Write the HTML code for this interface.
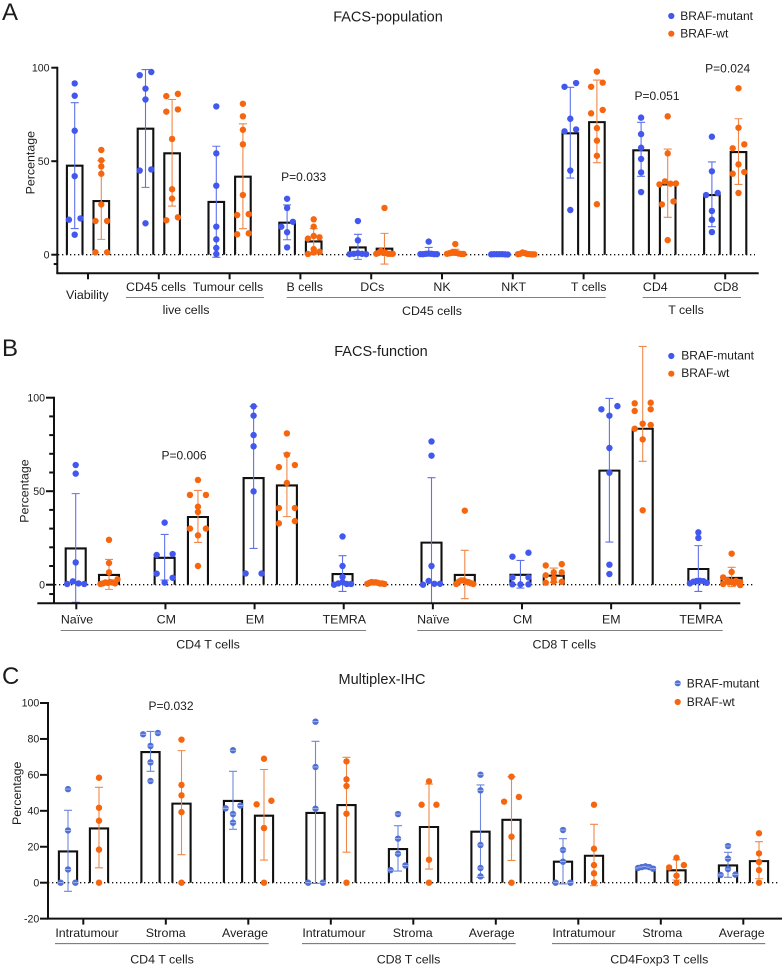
<!DOCTYPE html>
<html lang="en">
<head>
<meta charset="utf-8">
<title>BRAF-mutant vs BRAF-wt percentages</title>
<style>
html,body{margin:0;padding:0;background:#fff;}
svg{display:block;}
text{font-family:"Liberation Sans",sans-serif;fill:#1c1c1c;font-size:12.4px;}
.title{font-size:14.5px;}
.letter{font-size:24px;}
.tick{font-size:10.6px;text-anchor:end;}
.mid{text-anchor:middle;}
.p{font-size:12px;text-anchor:middle;}
.leg{font-size:12px;}
.rule{stroke:#555;stroke-width:.8;}
</style>
</head>
<body>
<svg id="figure" xmlns="http://www.w3.org/2000/svg" width="784" height="968" viewBox="0 0 784 968">
  <rect x="0" y="0" width="784" height="968" fill="#fff"/>

  <!-- Panel A -->
  <g id="panel-a">
    <text class="letter" x="2" y="20">A</text>
    <text class="title mid" x="388" y="21.5">FACS-population</text>
    <circle cx="671.3" cy="16" r="3.1" fill="#4257ee"/>
    <text class="leg" x="680.3" y="20">BRAF-mutant</text>
    <circle cx="671.3" cy="33.7" r="3.1" fill="#f5660f"/>
    <text class="leg" x="680.3" y="37.7">BRAF-wt</text>
    <text class="mid" transform="translate(34.5 162.7) rotate(-90)">Percentage</text>
    <text class="p" x="303.7" y="181">P=0.033</text>
    <text class="p" x="657" y="100">P=0.051</text>
    <text class="p" x="727.7" y="72.7">P=0.024</text>
    <text class="mid" x="87.3" y="299">Viability</text>
    <text class="mid" x="156" y="291">CD45 cells</text>
    <text class="mid" x="228" y="291">Tumour cells</text>
    <text class="mid" x="304.7" y="291">B cells</text>
    <text class="mid" x="372.3" y="291">DCs</text>
    <text class="mid" x="442" y="291">NK</text>
    <text class="mid" x="513.7" y="291">NKT</text>
    <text class="mid" x="588.7" y="291">T cells</text>
    <text class="mid" x="655.3" y="291">CD4</text>
    <text class="mid" x="726" y="291">CD8</text>
    <line class="rule" x1="126" y1="297.5" x2="264" y2="297.5"/>
    <line class="rule" x1="286.7" y1="297.5" x2="605.7" y2="297.5"/>
    <line class="rule" x1="642.7" y1="297.5" x2="741" y2="297.5"/>
    <text class="mid" x="186" y="314">live cells</text>
    <text class="mid" x="432" y="315">CD45 cells</text>
    <text class="mid" x="686" y="314">T cells</text>
  </g>

  <!-- Panel B -->
  <g id="panel-b">
    <text class="letter" x="2" y="356">B</text>
    <text class="title mid" x="381" y="356">FACS-function</text>
    <circle cx="671.3" cy="356" r="3.1" fill="#4257ee"/>
    <text class="leg" x="681.3" y="359.5">BRAF-mutant</text>
    <circle cx="671.3" cy="373.7" r="3.1" fill="#f5660f"/>
    <text class="leg" x="681.3" y="377">BRAF-wt</text>
    <text class="mid" transform="translate(28.5 491) rotate(-90)">Percentage</text>
    <text class="p" x="184" y="459.7">P=0.006</text>
    <text class="mid" x="77" y="623.3">Naïve</text>
    <text class="mid" x="166.3" y="623.3">CM</text>
    <text class="mid" x="255" y="623.3">EM</text>
    <text class="mid" x="344.3" y="623.3">TEMRA</text>
    <text class="mid" x="433.3" y="623.3">Naïve</text>
    <text class="mid" x="522.7" y="623.3">CM</text>
    <text class="mid" x="611.3" y="623.3">EM</text>
    <text class="mid" x="701" y="623.3">TEMRA</text>
    <line class="rule" x1="60.7" y1="630.4" x2="366" y2="630.4"/>
    <line class="rule" x1="417.3" y1="630.4" x2="722.7" y2="630.4"/>
    <text class="mid" x="208" y="648.3">CD4 T cells</text>
    <text class="mid" x="564.3" y="648.3">CD8 T cells</text>
  </g>

  <!-- Panel C -->
  <g id="panel-c">
    <text class="letter" x="2" y="684">C</text>
    <text class="title mid" x="382" y="684">Multiplex-IHC</text>
    <circle cx="677.7" cy="683.3" r="3.1" fill="#4f6fd5"/>
    <line x1="674.6" y1="683.3" x2="680.8" y2="683.3" stroke="#b4c2f0" stroke-width=".8"/>
    <text class="leg" x="686.7" y="687.3">BRAF-mutant</text>
    <circle cx="677.7" cy="702" r="3.1" fill="#f5660f"/>
    <text class="leg" x="686.7" y="706">BRAF-wt</text>
    <text class="mid" transform="translate(21 793.3) rotate(-90)">Percentage</text>
    <text class="p" x="171" y="710">P=0.032</text>
    <text class="mid" x="87" y="937">Intratumour</text>
    <text class="mid" x="165.7" y="937">Stroma</text>
    <text class="mid" x="245" y="937">Average</text>
    <text class="mid" x="334" y="937">Intratumour</text>
    <text class="mid" x="412.7" y="937">Stroma</text>
    <text class="mid" x="491.7" y="937">Average</text>
    <text class="mid" x="584" y="937">Intratumour</text>
    <text class="mid" x="662.3" y="937">Stroma</text>
    <text class="mid" x="741.7" y="937">Average</text>
    <line class="rule" x1="55" y1="943.7" x2="268.7" y2="943.7"/>
    <line class="rule" x1="302" y1="943.7" x2="515.7" y2="943.7"/>
    <line class="rule" x1="552" y1="943.7" x2="765.3" y2="943.7"/>
    <text class="mid" x="162" y="963.7">CD4 T cells</text>
    <text class="mid" x="408.5" y="963.7">CD8 T cells</text>
    <text class="mid" x="659.3" y="963.7">CD4Foxp3 T cells</text>
  </g>
</svg>

<script>
// Points: each entry is one value, or a sub-array of values drawn side by side in a row.
/* ---------- Panel A ---------- */
const aCategories = ['Viability','CD45 cells','Tumour cells','B cells','DCs','NK','NKT','T cells','CD4','CD8'];
const aYTicks = [100,50,0];
const aYMinorTicks = [-5];
const aMutantMeans = [47.6,67.4,28.2,17.1,3.9,0.5,0.1,64.9,55.8,31.9];
const aMutantUpper = [81.3,99,58,26.6,10.9,3.9,0.4,89.5,70.8,49.6];
const aMutantLower = [14,36,-1.4,8,-2.5,-0.5,-0.1,41,41.9,15];
const aMutantPoints = [
  [91.6,85,66.3,42,[18.7,19.4],10.7],
  [[96,97.7],88.8,83,[45,45.6],16.8],
  [79.3,54.2,36.9,15,8.2,3.6,0.4],
  [29.9,25,[15,17.6],12,3.9],
  [18,7.7,[0.3,0.5,0.8,0.5,0.3]],
  [7,[0.3,0.3,0.5,0.6,0.5,0.3,0.3]],
  [[0.2,0.3,0.3,0.3,0.3,0.2,0.1]],
  [[89.8,91.8],72.7,[66,67],45,23.9],
  [73.3,64.5,57.2,51.2,44,33.5],
  [63.1,44.6,[31.9,33],23.4,18.7,12.1]
];
const aWtMeans = [28.7,54.2,41.7,7.1,3.2,0.6,0.3,70.9,37.6,54.9];
const aWtUpper = [50.3,83,70,13.9,11.4,2.9,0.8,93.4,56.5,72.7];
const aWtLower = [8.2,26,13.9,0.3,-5,-0.4,-0.2,49.2,20,37.6];
const aWtPoints = [
  [56,50.5,47.2,43.3,26.9,[18,18],[1.3,1.3]],
  [[84.8,86],[76.5,77.7],61.9,35,30,[18.4,20]],
  [80.7,74,66.8,59,31.9,[21.2,21.7],[10.9,11.4]],
  [18.9,15,10,[8.6,9.3],3,[0.4,1.2,1.6]],
  [25,[0.5,1,2,1,1,0.5,0.5,0.5]],
  [5.7,[0.5,0.8,1.2,1.4,1,0.6,0.4,0.4]],
  [[0.3,0.5,1.2,0.8,0.4,0.3,0.2,0.2]],
  [97.9,[89.8,92],[75.6,77.4],67.7,61,52.9,27],
  [74,54.2,[37.6,39.2,38,38.1],[26.9,28.5],7.8],
  [89,67.9,[56.9,59],48.3,[43.3,44.2],33]
];

/* ---------- Panel B ---------- */
const bCategories = ['Naive CD4','CM CD4','EM CD4','TEMRA CD4','Naive CD8','CM CD8','EM CD8','TEMRA CD8'];
const bYTicks = [100,50,0];
const bYMinorTicks = [90,80,70,60,40,30,20,10,-5];
const bMutantMeans = [19.4,14.4,57,5.7,22.5,5.3,61,8.4];
const bMutantUpper = [48.7,26.9,95.4,15.5,57.2,13,99.6,20.9];
const bMutantLower = [-9.4,2.5,19.4,-3.6,-10,-1.8,22.8,-3.6];
const bMutantPoints = [
  [64,59.4,11.9,[0.4,1.8,0.7,0.4]],
  [33.2,[15.9,16.4],[5.9,3.7],1.1],
  [95.4,90.4,80,74,49.9,[6,6]],
  [25.8,10,4.1,[0,0.7,1.4,0.4,0.4]],
  [76.6,69,10,[0,2,0.5,0.5]],
  [[15,17.1],[3.9,3.9],[0.2,0.2,0.2]],
  [[93.8,95.5],90.4,73.1,59.9,10.7,5.7],
  [28,25,[0.7,1.6,2,2.1,1.9,1]]
];
const bWtMeans = [5.2,36.2,53.1,1,5.2,4.8,83.4,3.6];
const bWtUpper = [13.5,50.4,70.4,1.5,18.4,8.9,127.4,9.3];
const bWtLower = [-2.5,22.6,36.4,0.5,-7.5,1.2,66,-1];
const bWtPoints = [
  [24,11.6,6.6,[0.4,0.7,1.2,1,1.4,1.2,0.7,2.9]],
  [56,[48,48],41.7,38.9,[30,30],26.4,10],
  [80.9,69.5,[62.9,64],54.4,[41,41],[32.8,34]],
  [[0.5,1,1.4,1.2,1.3,1,0.6,0.7,0.4]],
  [39.6,[0.4,1.6,2.3,2.3,1.6,1.4,0.8,0.4]],
  [[10.3,11],[5,6.6,6.6],3.6,[1.1,1.6,1.6]],
  [[97,97.3],[92.9,93.8],86.1,[83.4,85.4],77.7,39.8],
  [16.6,6.8,[3.9,2.5,1.6,2.1,1.4],[0.4,1.2,0.9,-0.2]]
];

/* ---------- Panel C ---------- */
const cCategories = ['Intratumour CD4','Stroma CD4','Average CD4','Intratumour CD8','Stroma CD8','Average CD8','Intratumour Foxp3','Stroma Foxp3','Average Foxp3'];
const cYTicks = [100,80,60,40,20,0,-20];
const cYMinorTicks = [];
const cMutantMeans = [17.4,72.7,45.5,38.8,18.7,28.4,11.7,8.5,9.6];
const cMutantUpper = [40.3,84.2,62,78.7,31.7,54.4,24.5,9.3,16.9];
const cMutantLower = [-4.8,62,29.7,-0.4,6.5,3,-0.7,7.7,3];
const cMutantPoints = [
  [52.1,29.1,7.4,[0,0]],
  [[82.6,83.3],76.1,67,56.6],
  [73.7,[41.4,42.9],38.2,33.4],
  [89.6,64.4,41.2,[0,0]],
  [38.2,24.5,16.1,[7,9.6]],
  [60.1,51.4,21,8.2,3.5],
  [29.3,18.2,11.7,[0,0]],
  [[8.2,8.7,9.1,8.7,7.8]],
  [20.4,13.4,7.6,[4.3,4.5]]
];
const cWtMeans = [30.2,44,37.3,43.2,31,35,15,6.9,12];
const cWtUpper = [53.1,73.5,63,69.8,54.9,59,32.5,12.8,22.8];
const cWtLower = [8.3,15.6,12.6,17,7.6,12.4,-1.7,1.5,2.2];
const cWtPoints = [
  [58.4,41.7,34.5,18.4,0],
  [79.6,54.4,48.6,39.3,0],
  [69,[43.6,45.6],30.4,0],
  [67.5,57.5,53.8,38.4,0],
  [56.4,[43.4,43.4],12.8,0],
  [59,[45.1,47.7],25.6,0],
  [43.4,18.9,9.8,5.2,0],
  [13.9,[8.5,9.8],3.9,0],
  [27.5,16.3,11.5,7,0]
];

const NS = 'http://www.w3.org/2000/svg';
function make(parent, tag, attrs) {
  const el = document.createElementNS(NS, tag);
  for (const k in attrs) el.setAttribute(k, attrs[k]);
  parent.appendChild(el);
  return el;
}

function drawBars(g, p, cats, means, xOf, seriesName) {
  const y = p.yScale;
  means.forEach(function (m, i) {
    const x = xOf(i);
    const bar = make(g, 'path', {
      d: 'M' + (x - p.barW / 2) + ' ' + y(0) + 'V' + y(m) + 'H' + (x + p.barW / 2) + 'V' + y(0),
      fill: 'none', stroke: '#111', 'stroke-width': 2.1, 'stroke-linejoin': 'miter'
    });
    
    
    bar.setAttribute('aria-label', cats[i] + ' ' + seriesName);
  });
}

function drawErrors(g, p, upper, lower, xOf, s) {
  const y = p.yScale;
  upper.forEach(function (u, i) {
    const x = xOf(i);
    const err = make(g, 'path', {
      d: 'M' + x + ' ' + y(u) + 'V' + y(lower[i]) +
         'M' + (x - 4) + ' ' + y(u) + 'H' + (x + 4) +
         'M' + (x - 4) + ' ' + y(lower[i]) + 'H' + (x + 4),
      fill: 'none', stroke: s.line, 'stroke-width': 1.1
    });
    
    
  });
}

function drawPoints(g, p, points, xOf, s) {
  const y = p.yScale;
  points.forEach(function (rows, i) {
    const x = xOf(i);
    rows.forEach(function (row) {
      const vals = Array.isArray(row) ? row : [row];
      const n = vals.length;
      const step = n === 2 ? 2 * p.jitter : (n > 1 ? Math.min(p.jitter, p.span / (n - 1)) : 0);
      vals.forEach(function (v, k) {
        const cx = x + (k - (n - 1) / 2) * step;
        const dot = make(g, 'circle', {cx: cx, cy: y(v), r: 3.2, fill: s.dot});
        
        
        if (s.stripe) {
          const st = make(g, 'line', {x1: cx - 3.1, x2: cx + 3.1, y1: y(v), y2: y(v), stroke: s.stripe, 'stroke-width': 0.8});
          
          
        }
      });
    });
  });
}

function drawPanel(id, p, d) {
  const root = document.getElementById(id);
  const g = make(root, 'g', {});
  
  
  p.yScale = function (v) { return p.y0 - v * p.ppu; };
  const xM = function (i) { return p.mx0 + p.step * i; };
  const xW = function (i) { return p.mx0 + p.step * i + p.gap; };
  const xT = function (i) { return p.tx0 + p.tStep * i; };

  drawBars(g, p, d.cats, d.mMeans, xM, 'BRAF-mutant');
  drawBars(g, p, d.cats, d.wMeans, xW, 'BRAF-wt');
  const zero = make(g, 'line', {x1: p.x1, x2: p.x2, y1: p.yScale(0), y2: p.yScale(0), stroke: '#111', 'stroke-width': 1.3, 'stroke-dasharray': '1.3 2.7'});
  
  
  drawErrors(g, p, d.mUp, d.mLo, xM, p.mStyle);
  drawErrors(g, p, d.wUp, d.wLo, xW, p.wStyle);
  drawPoints(g, p, d.mPts, xM, p.mStyle);
  drawPoints(g, p, d.wPts, xW, p.wStyle);

  const axes = make(g, 'g', {stroke: '#111', 'stroke-width': 2, fill: 'none'});
  
  
  const yTop = p.yScale(d.yTicks[0]);
  const yAxis = make(axes, 'line', {x1: p.ax, x2: p.ax, y1: yTop - 1, y2: p.axBottom});
  
  
  const xAxis = make(axes, 'line', {x1: p.axLeft, x2: p.axRight, y1: p.axBottom, y2: p.axBottom});
  
  
  d.yTicks.forEach(function (t) {
    const ty = p.yScale(t);
    const tick = make(axes, 'line', {x1: p.ax - p.tickLen, x2: p.ax, y1: ty, y2: ty});
    
    
    const label = make(g, 'text', {x: p.labelRight, y: ty + 3.7, 'class': 'tick'});
    label.textContent = t;
    
    
  });
  d.yMinor.forEach(function (t) {
    const ty = p.yScale(t);
    const tick = make(axes, 'line', {x1: p.ax - p.tickLen * 0.6, x2: p.ax, y1: ty, y2: ty});
    
    
  });
  d.cats.forEach(function (c, i) {
    const tick = make(axes, 'line', {x1: xT(i), x2: xT(i), y1: p.axBottom, y2: p.axBottom + 6});
    
    
  });
}

const blueStyle = {dot: '#4257ee', line: '#5f72ea'};
const orangeStyle = {dot: '#f5660f', line: '#f0884a'};
const blueStripeStyle = {dot: '#4f6fd5', line: '#7088dc', stripe: '#b4c2f0'};

drawPanel('panel-a', {
  y0: 254.7, ppu: 1.87, ax: 57.3, axLeft: 56.3, axRight: 758.7, axBottom: 273.3,
  x1: 58, x2: 755, mx0: 74.7, step: 70.8, gap: 26.6, tx0: 88, tStep: 70.8,
  barW: 15.6, jitter: 5.8, span: 16.5, tickLen: 6, labelRight: 49.5,
  mStyle: blueStyle, wStyle: orangeStyle
}, {cats: aCategories, yTicks: aYTicks, yMinor: aYMinorTicks,
    mMeans: aMutantMeans, mUp: aMutantUpper, mLo: aMutantLower, mPts: aMutantPoints,
    wMeans: aWtMeans, wUp: aWtUpper, wLo: aWtLower, wPts: aWtPoints});

drawPanel('panel-b', {
  y0: 584.7, ppu: 1.87, ax: 54, axLeft: 37.3, axRight: 740.3, axBottom: 603.3,
  x1: 55, x2: 753.7, mx0: 75.7, step: 88.95, gap: 33.3, tx0: 76.3, tStep: 89.14,
  barW: 20, jitter: 8, span: 17, tickLen: 8, labelRight: 45,
  mStyle: blueStyle, wStyle: orangeStyle
}, {cats: bCategories, yTicks: bYTicks, yMinor: bYMinorTicks,
    mMeans: bMutantMeans, mUp: bMutantUpper, mLo: bMutantLower, mPts: bMutantPoints,
    wMeans: bWtMeans, wUp: bWtUpper, wLo: bWtLower, wPts: bWtPoints});

drawPanel('panel-c', {
  y0: 882.7, ppu: 1.797, ax: 48, axLeft: 47, axRight: 782, axBottom: 918.6,
  x1: 44, x2: 780, mx0: 68, step: 82.5, gap: 31, tx0: 83.3, tStep: 82.5,
  barW: 18.2, jitter: 7.4, span: 15, tickLen: 8, labelRight: 39.3,
  mStyle: blueStripeStyle, wStyle: orangeStyle
}, {cats: cCategories, yTicks: cYTicks, yMinor: cYMinorTicks,
    mMeans: cMutantMeans, mUp: cMutantUpper, mLo: cMutantLower, mPts: cMutantPoints,
    wMeans: cWtMeans, wUp: cWtUpper, wLo: cWtLower, wPts: cWtPoints});
</script>
</body>
</html>
